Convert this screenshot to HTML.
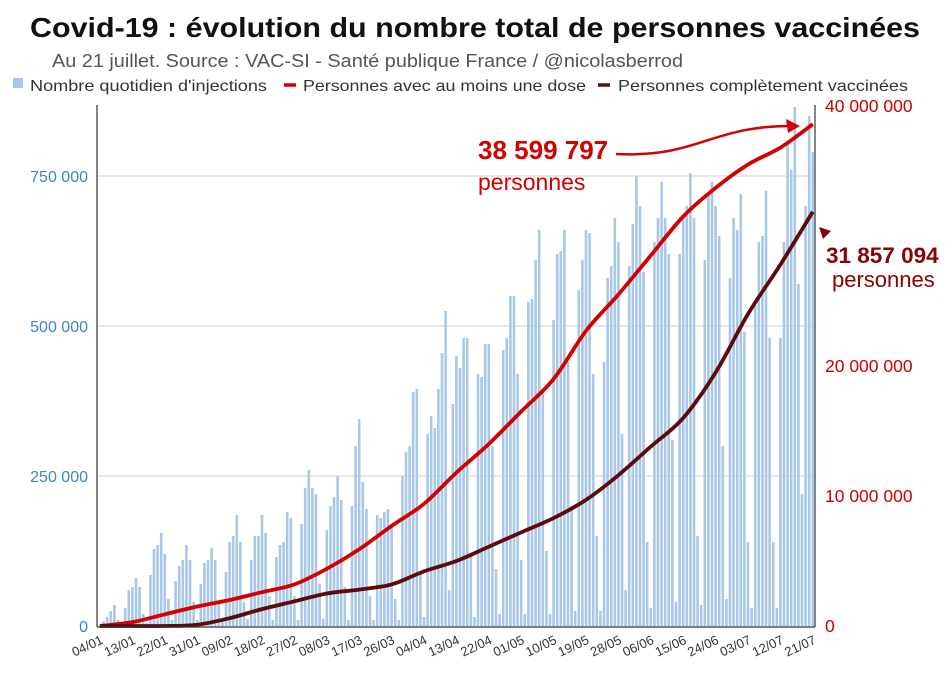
<!DOCTYPE html>
<html><head><meta charset="utf-8">
<style>
body{margin:0;background:#fff;width:952px;height:678px;overflow:hidden;font-family:"Liberation Sans",Arial,sans-serif}
</style></head>
<body>
<svg id="chart" width="952" height="678" xmlns="http://www.w3.org/2000/svg" font-family="Liberation Sans, Arial, sans-serif">
<text x="30" y="37" font-size="28" font-weight="bold" fill="#111" textLength="890" lengthAdjust="spacingAndGlyphs">Covid-19 : évolution du nombre total de personnes vaccinées</text>
<text x="52" y="67" font-size="18" fill="#555" textLength="631" lengthAdjust="spacingAndGlyphs">Au 21 juillet. Source : VAC-SI - Santé publique France / @nicolasberrod</text>
<g font-size="16" fill="#333">
<rect x="13" y="78" width="10" height="10" fill="#a9c8e8"/>
<text x="30" y="91" textLength="237" lengthAdjust="spacingAndGlyphs">Nombre quotidien d'injections</text>
<line x1="284" y1="85" x2="296" y2="85" stroke="#d40000" stroke-width="3.5"/>
<text x="303" y="91" textLength="283" lengthAdjust="spacingAndGlyphs">Personnes avec au moins une dose</text>
<line x1="598" y1="85" x2="610" y2="85" stroke="#5c0a0a" stroke-width="3.5"/>
<text x="618" y="91" textLength="290" lengthAdjust="spacingAndGlyphs">Personnes complètement vaccinées</text>
</g>
<g id="grid"></g><g id="bars"></g><g id="lines"></g><g id="axes"></g>
<g>
<text x="478" y="159" font-size="26" font-weight="bold" fill="#d40000">38 599 797</text>
<text x="478" y="190" font-size="23" fill="#d40000">personnes</text>
<path d="M616,154 C700,158 710,125 795,126" fill="none" stroke="#d40000" stroke-width="2.5"/>
<path d="M800,126 L786,119 L788,133 Z" fill="#d40000"/>
<text x="826" y="263" font-size="22.5" font-weight="bold" fill="#8b0000">31 857 094</text>
<text x="832" y="287" font-size="22" fill="#8b0000">personnes</text>
<path d="M819,227 L831,231 L823,239 Z" fill="#8b0000"/>
</g>
</svg>
<script>
const dailyInjections = [
2,8,15,25,35,10,3,
30,60,65,80,65,20,5,
85,128,135,155,120,45,10,
75,100,110,135,110,40,10,
70,105,110,130,110,40,10,
90,140,150,185,140,40,12,
110,150,150,185,155,50,10,
115,135,140,190,180,50,10,
170,230,260,230,220,70,12,
160,200,215,250,210,65,10,
200,300,345,240,195,50,10,
185,180,190,195,170,45,10,
250,290,300,390,395,90,15,
320,350,330,395,455,525,60,
370,450,430,480,480,120,15,
420,415,470,470,300,95,20,
460,480,550,550,420,110,20,
540,545,610,660,395,125,20,
510,620,625,660,440,200,25,
560,610,660,655,420,150,25,
440,580,600,680,640,320,60,
600,670,750,700,590,140,30,
640,680,740,680,620,310,40,
620,685,700,755,680,150,35,
610,720,740,700,650,300,45,
580,680,660,720,490,140,30,
540,640,650,725,480,140,30,
480,640,805,760,865,570,220,
700,850,790];
const dateLabels = ["04/01","13/01","22/01","31/01","09/02","18/02","27/02","08/03","17/03","26/03","04/04","13/04","22/04","01/05","10/05","19/05","28/05","06/06","15/06","24/06","03/07","12/07","21/07"];
const dose1Millions = [0,0.3,0.9,1.5,2.0,2.6,3.2,4.4,5.9,7.7,9.4,11.8,14.0,16.5,19.0,22.7,25.5,28.5,31.5,33.7,35.5,36.8,38.6];
const dose2Millions = [0,0,0,0.1,0.6,1.3,1.9,2.5,2.8,3.2,4.2,5.0,6.1,7.2,8.3,9.7,11.6,13.8,16.0,19.5,24.0,27.8,31.86];
const leftTicks = [0,250000,500000,750000];
const leftTickLabels = ["0","250 000","500 000","750 000"];
const rightTicks = [0,10,20,30,40];
const rightTickLabels = ["0","10 000 000","20 000 000","","40 000 000"];

const NS="http://www.w3.org/2000/svg";
const x0=100, dx=3.6, yBase=626;
const xDay=i=>x0+i*dx;
const yLeft=v=>yBase-v*1000*150/250000;
const yLeftRaw=v=>yBase-v*150/250000;
const yRight=m=>yBase-m*13;
function mk(tag,parent,attrs){const e=document.createElementNS(NS,tag);for(const k in attrs)e.setAttribute(k,attrs[k]);parent.appendChild(e);return e;}
const grid=document.getElementById('grid'),bars=document.getElementById('bars'),lines=document.getElementById('lines'),axes=document.getElementById('axes');
leftTicks.forEach((t,i)=>{
  const y=yLeftRaw(t);
  if(i>0){const g=mk('line',grid,{x1:97,x2:815,y1:y,y2:y,stroke:'#d0d0d0','stroke-width':1});
  
  }
  const tx=mk('text',axes,{x:88,y:y+6,'text-anchor':'end','font-size':16,fill:'#3d85c6'});
  
  
  tx.textContent=leftTickLabels[i];
});
rightTicks.forEach((t,i)=>{
  const tx=mk('text',axes,{x:825,y:yRight(t)+6,'font-size':17.5,fill:'#cc0000'});
  
  
  tx.textContent=rightTickLabels[i];
});
dailyInjections.forEach((v,i)=>{
  const y=yLeft(v);
  const r=mk('rect',bars,{x:xDay(i)-1.3,y:y,width:2.6,height:yBase-y,fill:'#a9c8e8'});
  
  
});
function line(arr,color,name){
  const pts=arr.map((m,k)=>[xDay(k*9),yRight(m)]);
  let d='M'+pts[0][0].toFixed(1)+','+pts[0][1].toFixed(1);
  for(let k=0;k<pts.length-1;k++){
    const p0=pts[Math.max(0,k-1)],p1=pts[k],p2=pts[k+1],p3=pts[Math.min(pts.length-1,k+2)];
    const c1=[p1[0]+(p2[0]-p0[0])/6,p1[1]+(p2[1]-p0[1])/6],c2=[p2[0]-(p3[0]-p1[0])/6,p2[1]-(p3[1]-p1[1])/6];
    d+=` C${c1[0].toFixed(1)},${c1[1].toFixed(1)} ${c2[0].toFixed(1)},${c2[1].toFixed(1)} ${p2[0].toFixed(1)},${p2[1].toFixed(1)}`;
  }
  const p=mk('path',lines,{d:d,fill:'none',stroke:color,'stroke-width':3.8,'stroke-linejoin':'round'});
  
  
}
line(dose1Millions,'#d40000','dose1-line');
line(dose2Millions,'#5c0a0a','dose2-line');
const la=mk('line',axes,{x1:97,x2:97,y1:105,y2:627,stroke:'#333','stroke-width':1.2});


const ra=mk('line',axes,{x1:815,x2:815,y1:105,y2:627,stroke:'#333','stroke-width':1.2});


const xa=mk('line',axes,{x1:97,x2:815,y1:627,y2:627,stroke:'#333','stroke-width':1.2});


dateLabels.forEach((l,k)=>{
  const x=xDay(k*9)+4;
  const t=mk('text',axes,{x:x,y:643,'text-anchor':'end','font-size':13,fill:'#333',transform:`rotate(-25 ${x} 643)`});
  
  
  t.textContent=l;
});
</script>
</body></html>
